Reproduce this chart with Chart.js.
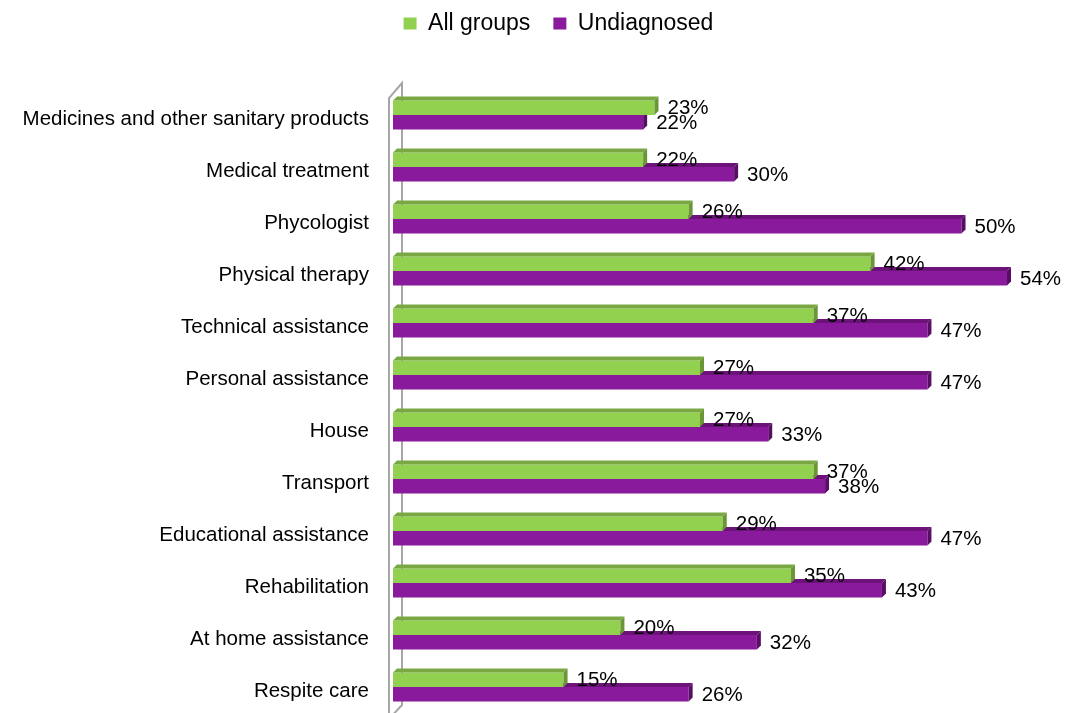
<!DOCTYPE html>
<html>
<head>
<meta charset="utf-8">
<script src="https://cdn.jsdelivr.net/npm/chart.js@4.4.1/dist/chart.umd.min.js"></script>
<style>
  html, body { margin: 0; padding: 0; background: #fff; }
  #wrap { width: 1065px; height: 713px; position: relative; }
</style>
</head>
<body>
<div id="wrap"><canvas id="chart"></canvas></div>
<script>
// ===== DATA =====
const categories = [
  'Medicines and other sanitary products',
  'Medical treatment',
  'Phycologist',
  'Physical therapy',
  'Technical assistance',
  'Personal assistance',
  'House',
  'Transport',
  'Educational assistance',
  'Rehabilitation',
  'At home assistance',
  'Respite care'
];
const allGroups   = [23, 22, 26, 42, 37, 27, 27, 37, 29, 35, 20, 15];
const undiagnosed = [22, 30, 50, 54, 47, 47, 33, 38, 47, 43, 32, 26];
const seriesNames = ['All groups', 'Undiagnosed'];

const FONT = "'Liberation Sans', Arial, sans-serif";
const faces = [
  { top: '#79a842', side: '#6a9636' },   // green
  { top: '#6d127b', side: '#590e65' }    // purple
];
const DEPTH = 4;

// ===== PLUGINS =====
// stretch the legend so the plot starts lower, and nudge it right
const legendSpace = {
  id: 'legendSpace',
  beforeInit(chart) {
    const fit = chart.legend.fit;
    chart.legend.fit = function () {
      fit.call(this);
      this.height = 100;
    };
  },
  afterLayout(chart) {
    chart.legend.left = 52;
  }
};

// the thin grey 3D wall on the left
const wall = {
  id: 'wall',
  beforeDatasetsDraw(chart) {
    const { ctx, chartArea: a } = chart;
    const L = a.left, T = a.top, B = a.bottom;
    ctx.save();
    ctx.strokeStyle = '#a6a6a6';
    ctx.lineWidth = 2;
    ctx.beginPath();
    ctx.moveTo(L - 4, B + 4);
    ctx.lineTo(L - 4, T + 9);
    ctx.lineTo(L + 9, T - 6);
    ctx.lineTo(L + 9, B - 8);
    ctx.lineTo(L - 4, B + 6);
    ctx.stroke();
    ctx.restore();
  }
};

// top and side faces for each bar
const bars3d = {
  id: 'bars3d',
  afterDatasetDraw(chart, args) {
    const { ctx } = chart;
    const f = faces[args.index];
    ctx.save();
    args.meta.data.forEach(bar => {
      const p = bar.getProps(['x', 'y', 'base', 'height'], true);
      const t = p.y - p.height / 2, b = p.y + p.height / 2;
      const x0 = p.base, x1 = p.x;
      ctx.fillStyle = f.top;
      ctx.beginPath();
      ctx.moveTo(x0, t);
      ctx.lineTo(x0 + DEPTH, t - DEPTH);
      ctx.lineTo(x1 + DEPTH, t - DEPTH);
      ctx.lineTo(x1, t);
      ctx.closePath();
      ctx.fill();
      ctx.fillStyle = f.side;
      ctx.beginPath();
      ctx.moveTo(x1, t);
      ctx.lineTo(x1 + DEPTH, t - DEPTH);
      ctx.lineTo(x1 + DEPTH, b - DEPTH);
      ctx.lineTo(x1, b);
      ctx.closePath();
      ctx.fill();
    });
    ctx.restore();
  }
};

// value labels at the end of each bar
const valueLabels = {
  id: 'valueLabels',
  afterDatasetsDraw(chart) {
    const { ctx } = chart;
    ctx.save();
    ctx.font = '20.5px ' + FONT;
    ctx.fillStyle = '#000';
    ctx.textAlign = 'left';
    ctx.textBaseline = 'middle';
    chart.data.datasets.forEach((ds, i) => {
      chart.getDatasetMeta(i).data.forEach((bar, j) => {
        const p = bar.getProps(['x', 'y'], true);
        ctx.fillText(ds.data[j] + '%', p.x + 13, p.y + 1);
      });
    });
    ctx.restore();
  }
};

// ===== CHART =====
new Chart(document.getElementById('chart'), {
  type: 'bar',
  data: {
    labels: categories,
    datasets: [
      { label: seriesNames[0], data: allGroups, backgroundColor: '#92d050' },
      { label: seriesNames[1], data: undiagnosed, backgroundColor: '#891a9b' }
    ]
  },
  options: {
    indexAxis: 'y',
    responsive: true,
    maintainAspectRatio: false,
    animation: false,
    categoryPercentage: 0.56,
    barPercentage: 1,
    layout: { padding: { top: -11, left: 0, right: 0, bottom: 0 } },
    plugins: {
      legend: {
        position: 'top',
        labels: {
          boxWidth: 13,
          boxHeight: 12,
          padding: 23,
          color: '#000',
          font: { family: FONT, size: 23 }
        }
      },
      tooltip: { enabled: false }
    },
    scales: {
      x: { display: false, min: 0, max: 59.1 },
      y: {
        grid: { display: false, drawTicks: false },
        border: { display: false },
        ticks: { padding: 24, labelOffset: 4, color: '#000', font: { family: FONT, size: 20.5 } },
        afterFit(scale) {
          scale.width = 393;
          scale.paddingTop = 0;
          scale.paddingBottom = 0;
        }
      }
    }
  },
  plugins: [legendSpace, wall, bars3d, valueLabels]
});
</script>
</body>
</html>
